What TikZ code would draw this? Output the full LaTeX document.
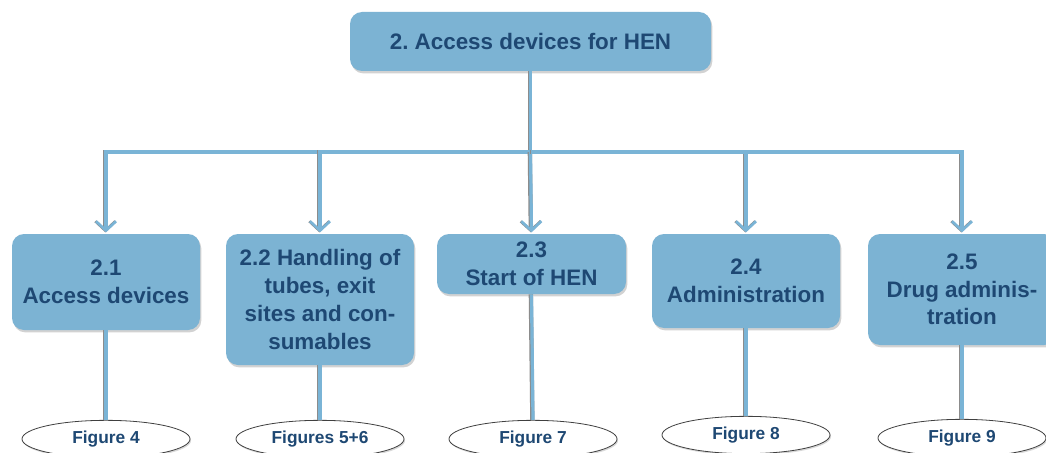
\documentclass[tikz,border=0pt]{standalone}
\usepackage{fontspec}
\setmainfont{Liberation Sans}
\frenchspacing
\usetikzlibrary{arrows.meta,shadows,shapes.geometric}
\definecolor{boxblue}{RGB}{124,179,211}
\definecolor{lineblue}{RGB}{122,180,214}
\definecolor{txtblue}{RGB}{30,72,115}
\tikzset{
  box/.style={rectangle, rounded corners=9pt, fill=boxblue, draw=none,
    text=txtblue, font=\fontsize{16.8}{20.8}\selectfont\bfseries, align=center,
    minimum width=141pt, inner sep=2pt,
    drop shadow={shadow xshift=1pt, shadow yshift=-1.8pt, opacity=0.35}},
  fig/.style={ellipse, fill=white, draw=black!75, line width=0.6pt,
    text=txtblue, font=\fontsize{13}{15}\selectfont\bfseries,
    minimum width=126pt, minimum height=28pt, inner sep=0pt,
    drop shadow={shadow xshift=0.8pt, shadow yshift=-1.2pt, opacity=0.3}},
  conn/.style={draw=lineblue, line width=2.4pt,
    preaction={draw=black!45, line width=3.2pt, transform canvas={xshift=-0.5pt}}},
  tip/.style={-{Straight Barb[length=7pt, width=15pt, line width=2pt]}},
}
\begin{document}
\begin{tikzpicture}[x=0.75pt, y=-0.75pt]
\clip (0,0) rectangle (1046,453);
\fill[white] (0,0) rectangle (1046,453);
\coordinate (j) at (530.5,152);
\node[box, minimum width=270.75pt, minimum height=44.25pt] (top) at (530.5,41.5) {2. Access devices for HEN};
\node[box, minimum height=72pt] (b1) at (106,282) {2.1\\Access devices};
\node[box, minimum height=98.25pt] (b2) at (320,299.5) {2.2 Handling of\\tubes, exit\\sites and con-\\sumables};
\node[box, minimum width=141.75pt, minimum height=45pt] (b3) at (531.5,264) {2.3\\Start of HEN};
\node[box, minimum height=70.5pt] (b4) at (746,281) {2.4\\Administration};
\node[box, minimum height=83.25pt] (b5) at (962,289.5) {2.5\\Drug adminis-\\tration};
\node[fig] (e1) at (106,439) {Figure 4};
\node[fig] (e2) at (320,439) {Figures 5+6};
\node[fig] (e3) at (533,439) {Figure 7};
\node[fig] (e4) at (746,435) {Figure 8};
\node[fig] (e5) at (962,438) {Figure 9};
\draw[conn] (top.south) -- (j);
\draw[conn, tip] (j) -| ([yshift=1pt]b1.north);
\draw[conn, tip] (j) -| ([yshift=1pt]b2.north);
\draw[conn, tip] (j) -- ([yshift=1pt]b3.north);
\draw[conn, tip] (j) -| ([yshift=1pt]b4.north);
\draw[conn, tip] (j) -| ([yshift=1pt]b5.north);
\draw[conn] (b1.south) -- (e1.north);
\draw[conn] (b2.south) -- (e2.north);
\draw[conn] (b3.south) -- (e3.north);
\draw[conn] (b4.south) -- (e4.north);
\draw[conn] (b5.south) -- (e5.north);
\end{tikzpicture}
\end{document}
